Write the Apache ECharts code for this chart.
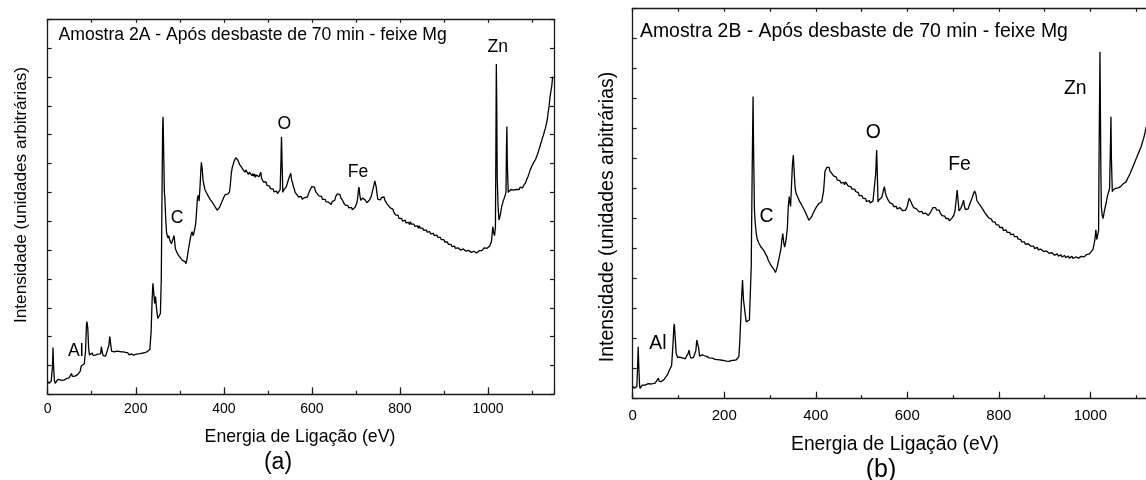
<!DOCTYPE html>
<html>
<head>
<meta charset="utf-8">
<script src="https://cdn.jsdelivr.net/npm/echarts@6/dist/echarts.min.js"></script>
<style>
html,body{margin:0;padding:0;background:#fff;}
#chart{width:1146px;height:480px;}
</style>
</head>
<body>
<div id="chart"></div>
<script>
// ---- DATA (energy eV, intensity in arbitrary tick units) ----
const spectrumA = [[0,0.45],[3,0.38],[8,0.45],[11,1.0],[12,1.62],[13,1.1],[15,0.5],[17,0.38],[20,0.45],[23,0.52],[25,0.58],[28,0.5],[30,0.52],[33,0.48],[35,0.54],[38,0.5],[40,0.49],[43,0.55],[45,0.52],[48,0.56],[50,0.55],[52,0.6],[54,0.72],[56,0.62],[58,0.6],[60,0.66],[62,0.63],[64,0.67],[66,0.62],[68,0.68],[70,0.66],[72,0.72],[74,0.8],[76,0.98],[78,0.92],[80,0.97],[83,1.05],[86,1.5],[88,2.4],[89,2.52],[91,2.3],[93,1.6],[95,1.36],[97,1.42],[99,1.38],[101,1.43],[103,1.35],[105,1.4],[108,1.36],[110,1.41],[112,1.33],[114,1.39],[116,1.35],[118,1.42],[120,1.4],[122,1.65],[124,1.45],[126,1.34],[128,1.36],[131,1.32],[133,1.4],[135,1.38],[137,1.44],[139,1.7],[141,2.0],[143,1.75],[145,1.5],[147,1.44],[149,1.5],[151,1.47],[153,1.52],[155,1.46],[157,1.5],[160,1.46],[162,1.49],[165,1.43],[167,1.47],[170,1.44],[172,1.47],[175,1.41],[177,1.45],[180,1.42],[182,1.44],[185,1.37],[187,1.42],[190,1.4],[192,1.44],[195,1.36],[197,1.41],[200,1.38],[202,1.42],[205,1.4],[207,1.45],[210,1.41],[212,1.46],[215,1.43],[217,1.47],[220,1.44],[222,1.49],[225,1.47],[227,1.52],[229,1.48],[232,1.55],[235,2.2],[237,3.2],[239,3.85],[241,3.5],[243,3.15],[245,3.39],[247,3.0],[250,2.63],[253,2.66],[256,2.8],[258,4.0],[260,7.5],[261,9.2],[262,9.62],[263,8.8],[265,7.0],[266,6.85],[268,6.1],
[270,5.6],[273,5.42],[275,5.5],[277,5.36],[279,5.32],[281,5.22],[283,5.28],[285,5.2],[287,5.5],[288,5.52],[290,5.05],[292,5.02],[294,4.9],[296,4.95],[298,4.8],[300,4.84],[302,4.72],[304,4.76],[306,4.64],[308,4.67],[310,4.58],[312,4.6],[314,4.53],[316,4.65],[318,4.85],[320,5.05],[322,5.23],[324,5.4],[326,5.56],[328,5.64],[330,5.5],[332,5.58],[334,5.62],[336,5.9],[338,6.3],[340,6.79],[342,6.9],[344,6.7],[346,7.2],[348,7.8],[349,8.04],[351,7.8],[353,7.4],[355,7.25],[357,7.1],[359,7.12],[361,6.98],[363,7.0],[365,6.86],[367,6.9],[369,6.76],[371,6.78],[373,6.68],[375,6.7],[377,6.58],[379,6.6],[381,6.48],[383,6.5],[385,6.38],[387,6.42],[389,6.4],[391,6.5],[393,6.58],[395,6.65],[397,6.7],[399,6.8],[401,6.84],[403,6.92],[405,6.9],[407,6.98],[409,6.94],[411,7.0],[413,7.02],[415,7.3],[417,7.66],[419,7.85],[421,7.95],[423,8.06],[425,8.1],[427,8.2],[429,8.15],[430,8.26],[432,8.12],[434,8.08],[436,7.96],[438,8.0],[440,7.88],[442,7.92],[444,7.78],[446,7.82],[448,7.7],[450,7.78],[452,7.72],[454,7.76],[456,7.62],[458,7.7],[460,7.64],[462,7.7],[464,7.58],[466,7.65],[468,7.56],[470,7.64],[472,7.52],[474,7.6],[476,7.55],[478,7.66],[480,7.54],[482,7.62],[484,7.7],[486,7.48],[488,7.52],[490,7.36],[492,7.4],[494,7.3],[496,7.36],[498,7.24],[500,7.28],[502,7.18],[504,7.22],[506,7.12],[508,7.16],[510,7.06],[512,7.12],[514,7.02],[516,7.08],[518,6.98],[520,7.04],[522,6.96],[524,7.02],[526,6.95],[528,7.1],[530,8.2],[531,8.93],[532,8.3],[534,7.0],[536,7.08],[538,7.02],[540,7.12],[542,7.2],[544,7.3],[546,7.36],[548,7.5],[550,7.55],[552,7.66],[554,7.42],[556,7.35],[558,7.2],[560,7.12],[562,7.0],[564,7.05],[566,6.92],[568,6.95],[570,6.84],[572,6.9],[574,6.82],[576,6.86],[578,6.76],[580,6.8],[582,6.72],[584,6.82],[586,6.78],[588,6.86],[590,6.84],[592,6.94],[594,6.95],[596,7.08],[598,7.12],[600,7.2],[602,7.26],[604,7.14],[606,7.18],[608,7.04],[610,7.06],[612,6.96],[614,7.0],[616,6.88],[618,6.92],[620,6.82],[622,6.86],[624,6.76],[626,6.8],[628,6.72],[630,6.76],[632,6.68],[634,6.72],[636,6.64],[638,6.66],[640,6.6],[642,6.64],[644,6.58],[646,6.68],[648,6.66],[650,6.74],[652,6.72],[654,6.85],[656,6.88],[658,6.95],[660,6.97],[662,6.9],[664,6.92],[666,6.8],[668,6.76],[670,6.72],[672,6.64],[674,6.66],[676,6.56],[678,6.6],[680,6.5],[682,6.54],[684,6.46],[686,6.5],[688,6.42],[690,6.48],[692,6.4],[694,6.44],[696,6.42],[698,6.48],[700,6.5],[702,6.62],[704,6.8],[706,7.1],[707,7.18],[709,6.9],[711,6.72],[713,6.68],[715,6.8],[717,6.82],[719,6.86],[721,6.74],[723,6.72],[725,6.64],[727,6.7],[729,6.68],[731,6.74],[733,6.76],[735,6.86],[737,7.0],[739,7.12],[741,7.25],[743,7.4],[744,7.43],[746,7.2],[748,6.95],[750,6.76],[752,6.7],[754,6.78],[756,6.74],[758,6.82],[760,6.76],[762,6.86],[764,6.84],[766,6.72],[768,6.74],[770,6.62],[772,6.64],[774,6.54],[776,6.56],[778,6.46],[780,6.5],[782,6.4],[784,6.42],[786,6.32],[788,6.3],[790,6.22],[792,6.26],[794,6.16],[796,6.2],[798,6.1],[800,6.14],[802,6.06],[804,6.1],[806,6.0],[808,6.06],[810,5.98],[812,6.04],[814,5.94],[816,5.98],[818,5.9],[820,5.96],[822,5.88],[824,5.98],[826,5.9],[828,5.94],[830,5.84],[832,5.9],[834,5.82],[836,5.88],[838,5.78],[840,5.84],[842,5.76],[844,5.84],[846,5.76],[848,5.8],[850,5.72],[852,5.76],[854,5.68],[856,5.72],[858,5.64],[860,5.7],[862,5.62],[864,5.66],[866,5.58],[868,5.64],[870,5.56],[872,5.62],[874,5.52],[876,5.58],[878,5.5],[880,5.54],[882,5.46],[884,5.52],[886,5.44],[888,5.48],[890,5.4],[892,5.44],[894,5.36],[896,5.4],[898,5.32],[900,5.36],[902,5.28],[904,5.32],[906,5.24],[908,5.28],[910,5.2],[912,5.25],[914,5.16],[916,5.2],[918,5.12],[920,5.17],[922,5.1],[924,5.14],[926,5.06],[928,5.1],[930,5.04],[932,5.08],[934,5.02],[936,5.06],[938,5.0],[940,5.05],[942,4.98],[944,5.04],[946,4.98],[948,5.02],[950,4.96],[952,5.0],[954,4.94],[956,4.99],[958,4.93],[960,4.98],[962,4.92],[964,4.97],[966,4.92],[968,4.96],[970,4.9],[972,4.95],[974,4.9],[976,4.96],[978,4.92],[980,4.98],[982,4.94],[984,5.0],[986,4.98],[988,5.04],[990,5.02],[992,5.08],[994,5.04],[996,5.1],[998,5.06],[1000,5.12],[1002,5.08],[1004,5.14],[1006,5.2],[1008,5.3],[1009,5.47],[1011,5.81],[1013,5.6],[1015,5.5],[1017,5.8],[1018,8.5],[1019,11.45],[1020,10.0],[1021,7.5],[1023,6.5],[1025,6.04],[1027,6.15],[1029,6.3],[1031,6.5],[1033,6.6],[1035,6.72],[1037,6.8],[1039,6.85],[1041,7.0],[1042,8.5],[1043,9.28],[1044,8.0],[1046,7.0],[1048,7.06],[1050,7.0],[1052,7.1],[1054,7.06],[1056,7.12],[1058,7.08],[1060,7.14],[1062,7.04],[1064,7.1],[1066,7.14],[1068,7.06],[1071,7.1],[1073,7.18],[1075,7.12],[1077,7.2],[1079,7.16],[1081,7.24],[1083,7.22],[1085,7.32],[1087,7.4],[1089,7.48],[1091,7.55],[1093,7.64],[1096,7.78],[1098,7.84],[1100,7.92],[1102,7.98],[1104,8.04],[1106,8.06],[1108,8.14],[1110,8.2],[1112,8.3],[1114,8.38],[1116,8.5],[1118,8.58],[1120,8.7],[1122,8.78],[1124,8.9],[1126,8.98],[1128,9.1],[1130,9.2],[1133,9.39],[1135,9.56],[1137,9.8],[1139,10.0],[1141,10.32],[1143,10.5],[1145,10.7],[1147,11.01]];

const spectrumB = [[0,0.42],[3,0.35],[6,0.29],[9,0.4],[11,1.2],[12,1.73],[13,1.2],[15,0.45],[16,0.34],[19,0.4],[21,0.45],[23,0.42],[25,0.48],[27,0.45],[29,0.51],[31,0.48],[34,0.5],[36,0.47],[39,0.49],[41,0.46],[44,0.5],[46,0.48],[49,0.52],[51,0.5],[53,0.55],[56,0.68],[58,0.58],[61,0.6],[63,0.57],[65,0.62],[67,0.6],[69,0.65],[71,0.63],[73,0.68],[76,0.8],[78,0.84],[80,0.95],[83,1.0],[85,1.1],[88,1.8],[90,2.4],[91,2.49],[93,2.0],[95,1.51],[98,1.38],[100,1.32],[101,1.35],[103,1.38],[105,1.4],[107,1.34],[109,1.36],[111,1.4],[113,1.35],[115,1.33],[117,1.4],[119,1.38],[121,1.5],[123,1.62],[125,1.45],[127,1.35],[129,1.38],[131,1.33],[133,1.38],[135,1.4],[138,1.6],[140,1.95],[142,1.98],[144,1.7],[146,1.42],[148,1.45],[150,1.43],[152,1.46],[155,1.4],[157,1.43],[160,1.38],[162,1.41],[165,1.4],[167,1.36],[169,1.37],[171,1.34],[174,1.35],[176,1.32],[178,1.36],[180,1.31],[183,1.33],[185,1.3],[188,1.32],[190,1.29],[193,1.31],[195,1.28],[198,1.3],[200,1.27],[203,1.28],[205,1.25],[208,1.27],[210,1.24],[213,1.29],[215,1.27],[218,1.3],[221,1.28],[224,1.31],[226,1.29],[228,1.35],[230,1.33],[232,1.4],[234,1.9],[236,2.62],[238,3.4],[240,3.95],[242,3.3],[244,3.05],[246,2.8],[248,2.56],[251,2.58],[255,2.62],[257,3.5],[259,4.4],[261,7.5],[263,10.06],[264,8.5],
[266,6.28],[268,5.8],[270,5.5],[272,5.32],[274,5.28],[276,5.17],[278,5.2],[280,5.06],[282,5.1],[284,4.98],[286,5.02],[288,4.9],[290,4.82],[292,4.76],[294,4.72],[296,4.62],[298,4.58],[300,4.5],[302,4.52],[304,4.4],[306,4.42],[308,4.32],[310,4.3],[312,4.2],[314,4.3],[316,4.4],[318,4.55],[320,4.7],[322,4.85],[324,5.0],[326,5.3],[328,5.5],[330,5.2],[332,5.05],[334,5.2],[336,5.4],[338,5.7],[340,6.4],[342,6.73],[344,6.5],[345,6.4],[347,7.1],[349,7.8],[351,8.11],[353,7.5],[355,7.0],[357,6.84],[359,6.78],[361,6.7],[363,6.66],[365,6.56],[367,6.58],[369,6.46],[371,6.44],[373,6.34],[375,6.3],[377,6.22],[379,6.18],[381,6.08],[383,6.04],[385,5.94],[387,5.89],[389,5.98],[391,6.06],[393,6.12],[395,6.2],[397,6.26],[399,6.32],[401,6.36],[403,6.42],[405,6.46],[407,6.5],[409,6.52],[411,6.55],[413,6.56],[415,6.62],[417,6.9],[419,7.3],[420,7.56],[422,7.6],[424,7.7],[425,7.72],[427,7.64],[429,7.7],[431,7.58],[433,7.6],[435,7.5],[437,7.54],[439,7.42],[441,7.46],[443,7.36],[445,7.38],[447,7.28],[449,7.32],[451,7.22],[453,7.26],[455,7.18],[457,7.22],[459,7.14],[461,7.2],[463,7.12],[465,7.22],[467,7.18],[469,7.2],[471,7.08],[473,7.12],[475,7.02],[477,7.06],[479,6.98],[481,7.02],[483,6.94],[485,6.98],[487,6.9],[489,6.92],[491,6.84],[493,6.86],[495,6.76],[497,6.8],[499,6.72],[501,6.76],[503,6.68],[505,6.7],[507,6.62],[509,6.66],[511,6.56],[513,6.62],[515,6.56],[517,6.6],[519,6.52],[521,6.58],[523,6.54],[525,6.58],[527,6.52],[529,6.6],[531,7.5],[533,8.28],[534,7.8],[536,6.55],[538,6.62],[540,6.58],[542,6.66],[544,6.7],[546,6.8],[548,6.95],[550,7.06],[552,6.86],[554,6.76],[556,6.7],[558,6.62],[560,6.6],[562,6.52],[564,6.54],[566,6.46],[568,6.48],[570,6.4],[572,6.42],[574,6.36],[576,6.4],[578,6.32],[580,6.36],[582,6.3],[584,6.36],[586,6.3],[588,6.34],[590,6.26],[592,6.3],[594,6.24],[596,6.28],[598,6.26],[600,6.4],[602,6.55],[604,6.67],[606,6.62],[608,6.56],[610,6.48],[612,6.44],[614,6.36],[616,6.38],[618,6.3],[620,6.32],[622,6.26],[624,6.28],[626,6.22],[628,6.26],[630,6.2],[632,6.24],[634,6.16],[636,6.2],[638,6.14],[640,6.18],[642,6.12],[644,6.16],[646,6.1],[648,6.14],[650,6.14],[652,6.24],[654,6.3],[656,6.36],[658,6.39],[660,6.34],[662,6.36],[664,6.28],[666,6.3],[668,6.24],[670,6.28],[672,6.18],[674,6.2],[676,6.1],[678,6.14],[680,6.04],[682,6.08],[684,6.0],[686,6.04],[688,5.96],[690,6.0],[692,5.92],[694,5.96],[696,5.94],[698,6.02],[700,6.04],[702,6.12],[704,6.24],[706,6.5],[708,6.8],[709,6.95],[711,6.6],[713,6.25],[715,6.3],[717,6.34],[719,6.4],[721,6.5],[723,6.61],[725,6.4],[727,6.3],[729,6.26],[731,6.32],[733,6.32],[735,6.42],[737,6.5],[739,6.58],[741,6.66],[743,6.75],[745,6.84],[747,6.92],[748,6.95],[750,6.8],[752,6.6],[754,6.54],[756,6.56],[758,6.46],[760,6.48],[762,6.38],[764,6.4],[766,6.28],[768,6.3],[770,6.18],[772,6.2],[774,6.1],[776,6.12],[778,6.02],[780,6.04],[782,5.96],[784,5.98],[786,5.9],[788,5.94],[790,5.86],[792,5.88],[794,5.8],[796,5.82],[798,5.74],[800,5.78],[802,5.7],[804,5.74],[806,5.64],[808,5.7],[810,5.6],[812,5.66],[814,5.58],[816,5.62],[818,5.54],[820,5.58],[822,5.5],[824,5.54],[826,5.46],[828,5.52],[830,5.44],[832,5.48],[834,5.4],[836,5.44],[838,5.36],[840,5.4],[842,5.32],[844,5.36],[846,5.28],[848,5.3],[850,5.22],[852,5.26],[854,5.18],[856,5.22],[858,5.14],[860,5.2],[862,5.12],[864,5.16],[866,5.1],[868,5.14],[870,5.08],[872,5.12],[874,5.04],[876,5.08],[878,5.0],[880,5.06],[882,4.98],[884,5.04],[886,4.96],[888,5.0],[890,4.94],[892,4.98],[894,4.92],[896,4.96],[898,4.9],[900,4.95],[902,4.88],[904,4.92],[906,4.86],[908,4.9],[910,4.84],[912,4.88],[914,4.82],[916,4.86],[918,4.8],[920,4.85],[922,4.78],[924,4.83],[926,4.76],[928,4.82],[930,4.75],[932,4.8],[934,4.74],[936,4.79],[938,4.72],[940,4.78],[942,4.72],[944,4.77],[946,4.7],[948,4.76],[950,4.7],[952,4.75],[954,4.68],[956,4.74],[958,4.68],[960,4.74],[962,4.67],[964,4.73],[966,4.67],[968,4.72],[970,4.66],[972,4.72],[974,4.68],[976,4.74],[978,4.68],[980,4.74],[982,4.7],[984,4.76],[986,4.72],[988,4.78],[990,4.74],[992,4.8],[994,4.78],[996,4.84],[998,4.82],[1000,4.88],[1002,4.9],[1004,4.94],[1006,4.98],[1008,5.02],[1010,5.3],[1012,5.62],[1014,5.3],[1016,5.35],[1018,5.6],[1019,8.0],[1021,11.55],[1022,9.5],[1023,7.5],[1024,6.4],[1026,6.1],[1028,6.0],[1030,6.2],[1032,6.35],[1035,6.55],[1037,6.73],[1040,6.78],[1042,7.0],[1044,8.5],[1045,9.39],[1046,8.0],[1048,6.89],[1050,6.96],[1052,6.92],[1055,7.0],[1057,6.98],[1059,7.06],[1061,7.02],[1063,7.08],[1066,7.06],[1068,7.12],[1070,7.1],[1072,7.16],[1074,7.14],[1076,7.2],[1078,7.22],[1080,7.28],[1083,7.38],[1085,7.44],[1087,7.5],[1089,7.58],[1091,7.65],[1093,7.72],[1095,7.8],[1097,7.86],[1099,7.95],[1101,8.02],[1103,8.1],[1105,8.16],[1107,8.25],[1109,8.3],[1111,8.39],[1113,8.5],[1115,8.6],[1117,8.7],[1119,8.83],[1122,9.05]];

// peak annotations [energy, intensity, text]
const peaksA = [[1022,12.05,'Zn'],[537.5,9.37,'O'],[704.7,7.71,'Fe'],[294,6.11,'C'],[63.7,1.5,'Al']];
const peaksB = [[967,10.31,'Zn'],[525.5,8.86,'O'],[714,7.78,'Fe'],[292.6,6.06,'C'],[55.2,1.84,'Al']];
const headerA = [[24.6,12.45,'Amostra 2A - Após desbaste de 70 min - feixe Mg']];
const headerB = [[16,12.22,'Amostra 2B - Após desbaste de 70 min - feixe Mg']];

const xName = 'Energia de Ligação (eV)';
const yName = 'Intensidade (unidades arbitrárias)';
const panelTags = ['(a)', '(b)'];
const xRange = [0, 1150];
const yRange = [0, 13];

// ---- CHART ----
const FONT = "'Liberation Sans', Arial, Helvetica, sans-serif";
const AX = '#1a1a1a';
const chart = echarts.init(document.getElementById('chart'), null, {renderer: 'canvas'});

const grids = [
  {left: 47.7, top: 19.3, width: 506.3, height: 375, fs: 14, lm: 8, tfs: 17.6},
  {left: 632.7, top: 8.3, width: 526.3, height: 390.4, fs: 15, lm: 10, tfs: 19.4}
];

const xAxes = [], yAxes = [], series = [];
grids.forEach((g, i) => {
  const base = {gridIndex: i, type: 'value', min: xRange[0], max: xRange[1], splitLine: {show: false}};
  xAxes.push(Object.assign({}, base, {
    position: 'bottom', interval: 200,
    axisLine: {show: true, onZero: false, lineStyle: {color: AX, width: 1.3}},
    axisTick: {show: true, inside: true, length: 7, lineStyle: {color: AX, width: 1.2}},
    axisLabel: {show: true, margin: g.lm, fontSize: g.fs, color: '#000', fontFamily: FONT,
      showMaxLabel: false, formatter: v => String(v)}
  }));
  xAxes.push(Object.assign({}, base, {
    position: 'bottom', interval: 100,
    axisLine: {show: false, onZero: false},
    axisTick: {show: true, inside: true, length: 3.5, lineStyle: {color: AX, width: 1.2}},
    axisLabel: {show: false}
  }));
  xAxes.push(Object.assign({}, base, {
    position: 'top', interval: 100,
    axisLine: {show: true, onZero: false, lineStyle: {color: AX, width: 1.3}},
    axisTick: {show: true, inside: true, length: 3.5, lineStyle: {color: AX, width: 1.2}},
    axisLabel: {show: false}
  }));
  ['left', 'right'].forEach(pos => {
    yAxes.push({
      gridIndex: i, type: 'value', position: pos, min: yRange[0], max: yRange[1], interval: 1,
      splitLine: {show: false},
      axisLine: {show: true, onZero: false, lineStyle: {color: AX, width: 1.3}},
      axisTick: {show: true, inside: true, length: 4, lineStyle: {color: AX, width: 1.2}},
      axisLabel: {show: false}
    });
  });
});

function addPanel(i, data, peaks, header) {
  const g = grids[i];
  series.push({
    type: 'line', xAxisIndex: i * 3, yAxisIndex: i * 2, data: data,
    showSymbol: false, symbol: 'none', smooth: false,
    lineStyle: {color: '#000', width: 1.3}, z: 3
  });
  series.push({
    type: 'scatter', xAxisIndex: i * 3, yAxisIndex: i * 2, data: peaks,
    symbolSize: 0, silent: true, itemStyle: {opacity: 1},
    label: {show: true, position: 'inside', formatter: p => p.value[2], opacity: 1,
      fontSize: g.tfs, color: '#000', fontFamily: FONT}
  });
  series.push({
    type: 'scatter', xAxisIndex: i * 3, yAxisIndex: i * 2, data: header,
    symbolSize: 0, silent: true, itemStyle: {opacity: 1},
    label: {show: true, position: 'right', distance: 0, formatter: p => p.value[2], opacity: 1,
      fontSize: g.tfs, color: '#000', fontFamily: FONT, align: 'left', verticalAlign: 'middle'}
  });
}
addPanel(0, spectrumA, peaksA, headerA);
addPanel(1, spectrumB, peaksB, headerB);

const txt = (x, y, text, fs, rot) => ({
  type: 'text', x: x, y: y, rotation: rot || 0, silent: true,
  style: {text: text, fontSize: fs, fontFamily: FONT, fill: '#000', align: 'center', verticalAlign: 'middle'}
});

chart.setOption({
  animation: false,
  backgroundColor: '#fff',
  grid: grids.map(g => ({left: g.left, top: g.top, width: g.width, height: g.height,
    containLabel: false, outerBoundsMode: 'none'})),
  xAxis: xAxes,
  yAxis: yAxes,
  series: series,
  graphic: [
    txt(300, 436.7, xName, 17.7),
    txt(895, 445, xName, 19.3),
    txt(21, 195, yName, 17.2, Math.PI / 2),
    txt(607.7, 217, yName, 19.5, Math.PI / 2),
    txt(278, 463, panelTags[0], 23),
    txt(881, 470, panelTags[1], 25)
  ]
});
</script>
</body>
</html>
